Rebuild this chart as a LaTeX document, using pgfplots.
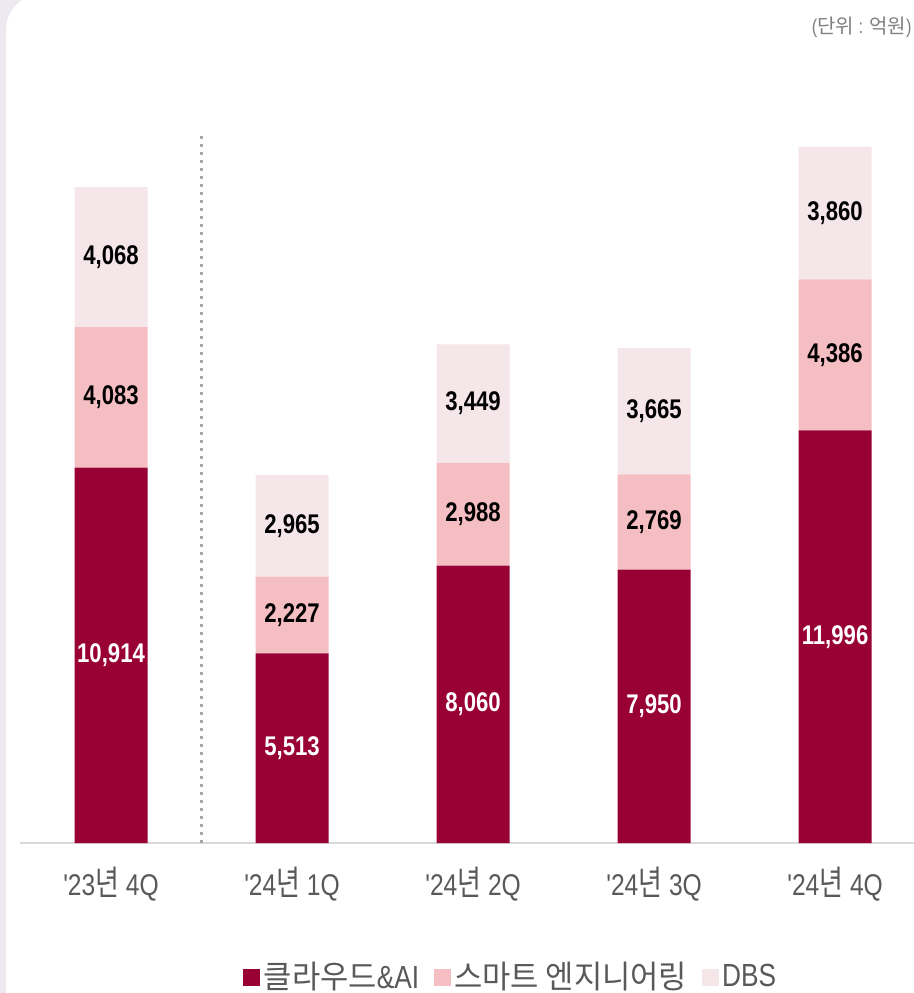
\documentclass[border=0pt]{standalone}
\usepackage{fontspec}
\setmainfont[FakeStretch=0.82,Ligatures=TeXOff]{Liberation Sans}
\newfontfamily\kr[FakeStretch=0.75,Scale=1.15]{Noto Sans CJK KR}
\newfontfamily\krl[FakeStretch=0.96]{Noto Sans CJK KR}
\newfontfamily\kru{Noto Sans CJK KR}
\usepackage{pgfplots}
\usepackage{pgfplotstable}
\pgfplotsset{compat=1.18}

\definecolor{cdark}{HTML}{990033}
\definecolor{cpink}{HTML}{F5BEC2}
\definecolor{clight}{HTML}{F5E6EA}
\definecolor{txtgray}{HTML}{595959}
\definecolor{lav}{HTML}{EEE8F1}

% revenue by segment, unit: 100M KRW
\pgfplotstableread{
x cloud smart dbs
0 10914 4083 4068
1 5513 2227 2965
2 8060 2988 3449
3 7950 2769 3665
4 11996 4386 3860
}\segdata

\begin{document}
\begin{tikzpicture}
% page = 914x993 px at 0.5pt per px
\path[use as bounding box] (0,0) rectangle (457pt,496.5pt);
\fill[lav] (0,0) rectangle (457pt,496.5pt);
\fill[white, rounded corners=18pt] (3pt,-20pt) rectangle (480pt,499.5pt);

\begin{axis}[
    at={(10pt,75pt)}, anchor=south west,
    scale only axis,
    width=447pt, height=395.6pt,
    xmin=-0.503, xmax=4.436,
    ymin=0, ymax=23000,
    ybar stacked,
    bar width=36.5pt,
    axis x line*=bottom,
    axis y line=none,
    x axis line style={draw=black!15, line width=1pt, -},
    ytick=\empty,
    xtick={0,1,2,3,4},
    xticklabels={
      {'23{\kr 년} 4Q},
      {'24{\kr 년} 1Q},
      {'24{\kr 년} 2Q},
      {'24{\kr 년} 3Q},
      {'24{\kr 년} 4Q}},
    major tick length=0pt,
    xticklabel style={font=\fontsize{15}{18}\selectfont, text=txtgray, anchor=center, yshift=-20.5pt},
    point meta=explicit,
    /pgf/number format/assume math mode=true,
    nodes near coords={\pgfmathprintnumber[fixed,precision=0,1000 sep={,}]{\pgfplotspointmeta}},
    every node near coord/.append style={font=\bfseries\fontsize{13.5}{16}\selectfont, anchor=center},
    legend columns=3,
    legend style={draw=none, fill=none, at={(0.2494,-0.1694)}, anchor=west,
      inner sep=0pt, nodes={inner sep=1.75pt, text=txtgray},
      font=\fontsize{16}{19}\selectfont,
      /tikz/every even column/.append style={column sep=5.5pt}},
    legend image code/.code={\fill[#1] (0pt,-4.25pt) rectangle (8.5pt,4.25pt);},
]
\addplot[fill=cdark, draw=none,
    every node near coord/.append style={text=white}]
    table[x=x, y=cloud, meta=cloud]{\segdata};
\addlegendentry{{\krl 클라우드}\&AI}
\addplot[fill=cpink, draw=none,
    every node near coord/.append style={text=black}]
    table[x=x, y=smart, meta=smart]{\segdata};
\addlegendentry{{\krl 스마트 엔지니어링}}
\addplot[fill=clight, draw=none,
    every node near coord/.append style={text=black}]
    table[x=x, y=dbs, meta=dbs]{\segdata};
\addlegendentry{DBS}

\draw[black!35, line width=1.5pt, dash pattern=on 1.5pt off 2.5pt]
    (axis cs:0.5,0) -- (axis cs:0.5,20600);
\end{axis}

\node[anchor=east, inner sep=0pt, text=black!50, font=\fontsize{10}{12}\selectfont]
    at (456pt,483pt) {({\kru 단위} : {\kru 억원})};
\end{tikzpicture}
\end{document}
